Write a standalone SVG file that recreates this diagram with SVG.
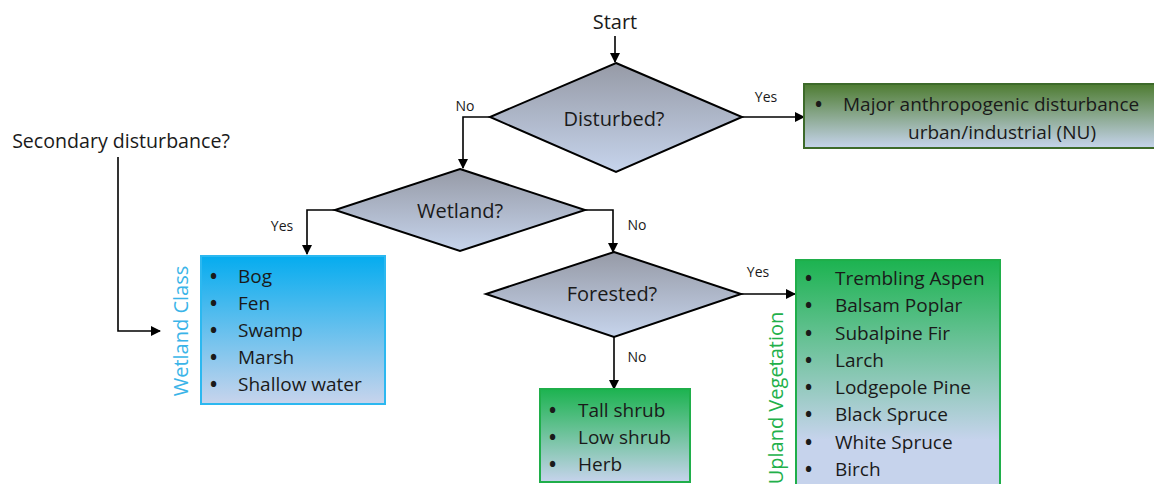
<svg xmlns="http://www.w3.org/2000/svg" width="1154" height="484" viewBox="0 0 1154 484">
<defs>
<linearGradient id="gDia" x1="0" y1="0" x2="0" y2="1"><stop offset="0" stop-color="#969aa6"/><stop offset="1" stop-color="#c6d4ec"/></linearGradient>
<linearGradient id="gNU" x1="0" y1="0" x2="0" y2="1"><stop offset="0" stop-color="#4e7c31"/><stop offset="1" stop-color="#c6d4ec"/></linearGradient>
<linearGradient id="gBlue" x1="0" y1="0" x2="0" y2="1"><stop offset="0" stop-color="#05acef"/><stop offset="1" stop-color="#c8d4ec"/></linearGradient>
<linearGradient id="gGreen" x1="0" y1="0" x2="0" y2="1"><stop offset="0" stop-color="#1cb350"/><stop offset="1" stop-color="#c6d3ec"/></linearGradient>
<linearGradient id="gGreen2" x1="0" y1="0" x2="0" y2="1"><stop offset="0" stop-color="#1cb350"/><stop offset="0.75" stop-color="#c6d3ec"/><stop offset="1" stop-color="#c6d3ec"/></linearGradient>
<marker id="arr" markerWidth="10" markerHeight="10" refX="9" refY="5" orient="auto" markerUnits="userSpaceOnUse"><path d="M0,0 L10,5 L0,10 Z" fill="#000"/></marker>
</defs>
<style>
text{font-family:"Open Sans","Liberation Sans",sans-serif;fill:#1a1a1a}
.dia{stroke:#000;stroke-width:2;fill:url(#gDia)}
.q{font-size:20px;text-anchor:middle;dominant-baseline:central}
.lab{font-size:14px;text-anchor:middle;dominant-baseline:central}
.it{font-size:19px;dominant-baseline:central}
.b{font-weight:bold;font-size:19px}
.con{fill:none;stroke:#000;stroke-width:1.6;marker-end:url(#arr)}
</style>
<g id="connectors">
<path class="con" d="M615,36 V62"/>
<path class="con" d="M742,117 H804"/>
<path class="con" d="M490,117 H463 V168"/>
<path class="con" d="M335,210 H307 V254"/>
<path class="con" d="M585,210 H613 V252"/>
<path class="con" d="M741,294 H795"/>
<path class="con" d="M614,337 V389"/>
<path class="con" d="M118,157 V331 H160"/>
<text class="lab" x="766" y="96">Yes</text>
<text class="lab" x="465" y="105">No</text>
<text class="lab" x="282" y="225">Yes</text>
<text class="lab" x="637" y="224">No</text>
<text class="lab" x="758" y="271">Yes</text>
<text class="lab" x="637" y="356">No</text>
</g>
<g id="start"><text class="q" x="615" y="21">Start</text></g>
<g id="secondary"><text class="q" x="121" y="140" style="font-size:19.6px">Secondary disturbance?</text></g>
<g id="disturbed">
<polygon class="dia" points="616,63 742,117 616,172 490,117"/>
<text class="q" x="614" y="118">Disturbed?</text>
</g>
<g id="wetland">
<polygon class="dia" points="460,169 585,210 460,251 335,210"/>
<text class="q" x="460" y="210">Wetland?</text>
</g>
<g id="forested">
<polygon class="dia" points="614,252 741,294 614,337 486,294"/>
<text class="q" x="612" y="293">Forested?</text>
</g>
<g id="nu">
<rect x="804" y="84" width="352" height="64" fill="url(#gNU)" stroke="#3d6a2a" stroke-width="2"/>
<text class="it" y="104"><tspan class="b" x="815">•</tspan><tspan x="843">Major anthropogenic disturbance</tspan></text>
<text class="it" x="1002" y="132" text-anchor="middle">urban/industrial (NU)</text>
</g>
<g id="wetlandclass">
<rect x="201" y="256" width="184" height="148" fill="url(#gBlue)" stroke="#2cb8f0" stroke-width="2"/>
<text class="it" y="276"><tspan class="b" x="210">•</tspan><tspan x="238">Bog</tspan></text>
<text class="it" y="303"><tspan class="b" x="210">•</tspan><tspan x="238">Fen</tspan></text>
<text class="it" y="330"><tspan class="b" x="210">•</tspan><tspan x="238">Swamp</tspan></text>
<text class="it" y="357"><tspan class="b" x="210">•</tspan><tspan x="238">Marsh</tspan></text>
<text class="it" y="384"><tspan class="b" x="210">•</tspan><tspan x="238">Shallow water</tspan></text>
<text class="q" transform="translate(180,331) rotate(-90)" style="fill:#3ab4e8">Wetland Class</text>
</g>
<g id="shrub">
<rect x="540" y="389" width="150" height="93" fill="url(#gGreen)" stroke="#1fae4a" stroke-width="2"/>
<text class="it" y="410"><tspan class="b" x="549">•</tspan><tspan x="578">Tall shrub</tspan></text>
<text class="it" y="437"><tspan class="b" x="549">•</tspan><tspan x="578">Low shrub</tspan></text>
<text class="it" y="464"><tspan class="b" x="549">•</tspan><tspan x="578">Herb</tspan></text>
</g>
<g id="upland">
<rect x="796" y="260" width="204" height="240" fill="url(#gGreen2)" stroke="#1fae4a" stroke-width="2"/>
<text class="it" y="278"><tspan class="b" x="805">•</tspan><tspan x="835">Trembling Aspen</tspan></text>
<text class="it" y="305"><tspan class="b" x="805">•</tspan><tspan x="835">Balsam Poplar</tspan></text>
<text class="it" y="333"><tspan class="b" x="805">•</tspan><tspan x="835">Subalpine Fir</tspan></text>
<text class="it" y="360"><tspan class="b" x="805">•</tspan><tspan x="835">Larch</tspan></text>
<text class="it" y="387"><tspan class="b" x="805">•</tspan><tspan x="835">Lodgepole Pine</tspan></text>
<text class="it" y="414"><tspan class="b" x="805">•</tspan><tspan x="835">Black Spruce</tspan></text>
<text class="it" y="442"><tspan class="b" x="805">•</tspan><tspan x="835">White Spruce</tspan></text>
<text class="it" y="469"><tspan class="b" x="805">•</tspan><tspan x="835">Birch</tspan></text>
<text class="q" transform="translate(775,398) rotate(-90)" style="fill:#22b04a">Upland Vegetation</text>
</g>
</svg>
